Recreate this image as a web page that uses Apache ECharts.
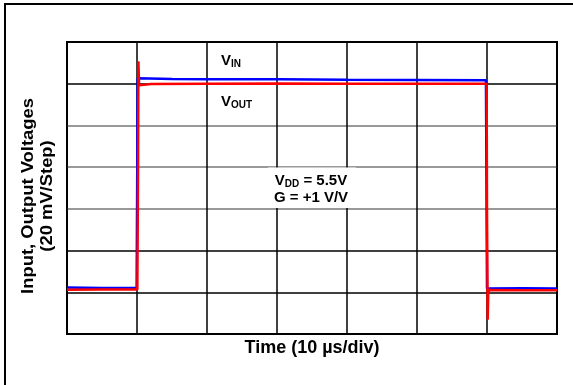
<!DOCTYPE html>
<html>
<head>
<meta charset="utf-8">
<script src="https://cdn.jsdelivr.net/npm/echarts@6/dist/echarts.min.js"></script>
<style>html,body{margin:0;padding:0;background:#fff}#c{width:573px;height:385px}</style>
</head>
<body>
<div id="c"></div>
<script>
// time in µs (10 µs/div), voltage in mV (20 mV/step)
const vinTime  = [0, 5, 9.95, 10.0, 10.1, 15, 20, 30, 40, 50, 59.85, 59.92, 60.0, 60.3, 65, 70];
const vinVolts = [22.3, 22.1, 22.2, 22.2, 122.6, 122.3, 122.2, 122.1, 121.9, 121.8, 121.7, 121.6, 21.8, 21.8, 21.9, 21.8];
const voutTime  = [0, 5, 10.05, 10.15, 10.2, 10.3, 10.45, 12, 20, 30, 40, 50, 59.95, 60.0, 60.1, 60.18, 60.3, 65, 70];
const voutVolts = [21.2, 21.3, 21.3, 80, 130.8, 119.2, 119.6, 119.9, 120.0, 120.1, 120.0, 120.0, 120.0, 60, 6.9, 19.5, 21.1, 21.0, 21.0];
const xTicks = { min: 0, max: 70, step: 10 };
const yTicks = { min: 0, max: 140, step: 20 };

const chart = echarts.init(document.getElementById('c'), null, { renderer: 'canvas' });
const F = 'Liberation Sans, Arial, sans-serif';
function subLabel(main, sub, x, y) {
  return {
    type: 'text', left: x, top: y, z: 100,
    style: {
      text: '{v|' + main + '}{s|' + sub + '}',
      rich: {
        v: { fontFamily: F, fontWeight: 'bold', fontSize: 15, lineHeight: 18, fill: '#000' },
        s: { fontFamily: F, fontWeight: 'bold', fontSize: 10, lineHeight: 10, verticalAlign: 'bottom', fill: '#000' }
      }
    }
  };
}
chart.setOption({
  animation: false,
  backgroundColor: '#fff',
  grid: { left: 67, top: 42, width: 490, height: 292, show: true, borderColor: '#000', borderWidth: 2, backgroundColor: 'transparent' },
  xAxis: {
    type: 'value', min: xTicks.min, max: xTicks.max, interval: xTicks.step,
    axisLine: { show: false }, axisTick: { show: false }, axisLabel: { show: false },
    splitLine: { show: true, lineStyle: { color: '#000', width: 1.5 } }
  },
  yAxis: {
    type: 'value', min: yTicks.min, max: yTicks.max, interval: yTicks.step,
    axisLine: { show: false }, axisTick: { show: false }, axisLabel: { show: false },
    splitLine: { show: true, lineStyle: { color: ['#000', '#000', '#000', '#777', '#777', '#777', '#000', '#000'], width: 1.5 } }
  },
  series: [
    { type: 'line', data: vinTime.map((t, i) => [t, vinVolts[i]]), showSymbol: false, symbol: 'none',
      lineStyle: { color: '#0000ff', width: 2.5 }, z: 3 },
    { type: 'line', data: voutTime.map((t, i) => [t, voutVolts[i]]), showSymbol: false, symbol: 'none',
      lineStyle: { color: '#ff0000', width: 2.5 }, z: 4 }
  ],
  graphic: [
    { type: 'rect', shape: { x: 5, y: 4, width: 620, height: 420 }, style: { fill: 'none', stroke: '#000', lineWidth: 2 }, z: 100 },
    { type: 'rect', shape: { x: 268, y: 167.5, width: 88, height: 40.5 }, style: { fill: '#fff' }, z: 50 },
    subLabel('V', 'IN', 221, 53),
    subLabel('V', 'OUT', 221, 94),
    {
      type: 'text', x: 311, y: 189, z: 100,
      style: {
        text: '{v|V}{s|DD}{v| = 5.5V}\n{v|G = +1 V/V}',
        align: 'center', verticalAlign: 'middle',
        rich: {
          v: { fontFamily: F, fontWeight: 'bold', fontSize: 15, lineHeight: 17, fill: '#000' },
          s: { fontFamily: F, fontWeight: 'bold', fontSize: 10, lineHeight: 10, verticalAlign: 'bottom', fill: '#000' }
        }
      }
    },
    {
      type: 'text', x: 312, y: 348, z: 100,
      style: { text: 'Time (10 µs/div)', fontFamily: F, fontWeight: 'bold', fontSize: 18, fill: '#000', align: 'center', verticalAlign: 'middle' }
    },
    {
      type: 'text', x: 38, y: 196, rotation: Math.PI / 2, scaleX: 1.15, z: 100,
      style: { text: 'Input, Output Voltages\n(20 mV/Step)', fontFamily: F, fontWeight: 'bold', fontSize: 16, lineHeight: 19, fill: '#000', align: 'center', verticalAlign: 'middle' }
    }
  ]
});
</script>
</body>
</html>
